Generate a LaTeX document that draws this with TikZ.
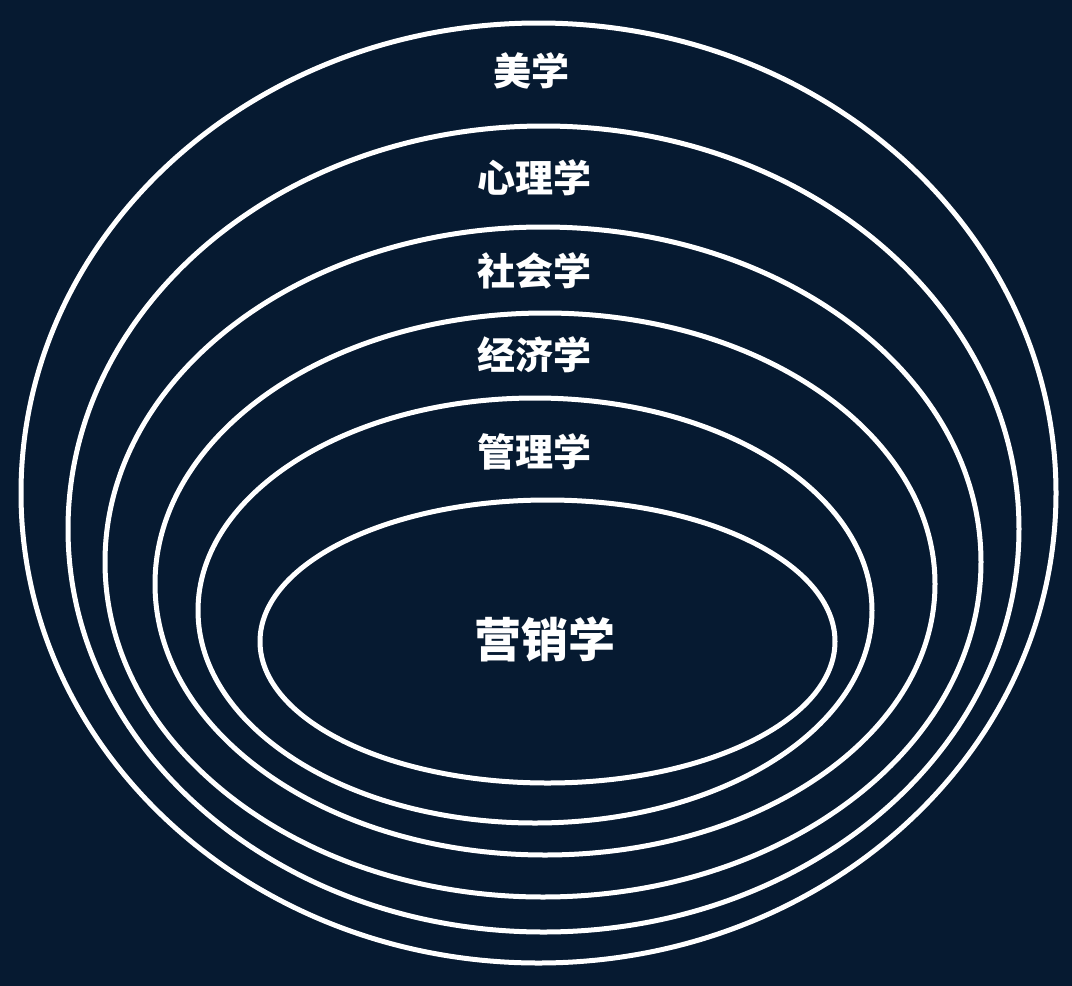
\documentclass[tikz,border=0pt]{standalone}
\usepackage{fontspec}
\newfontfamily\cjk{Noto Sans CJK SC}
\definecolor{navy}{HTML}{061A31}

\begin{document}
\begin{tikzpicture}[x=1pt,y=-1pt]
    \tikzstyle{ring}=[draw=white,line width=5pt]
    \tikzstyle{field}=[text=white,font=\cjk\bfseries\fontsize{38}{40}\selectfont,inner sep=0pt]
    \tikzstyle{core}=[field,font=\cjk\bfseries\fontsize{47}{50}\selectfont]
    \fill [navy] (0,0) rectangle (1072,986);
    \useasboundingbox (0,0) rectangle (1072,986);
    \path [ring] (538.5,493)   ellipse [x radius=517.5pt,y radius=470pt];
    \path [ring] (543.5,529)   ellipse [x radius=475.5pt,y radius=403pt];
    \path [ring] (543,562)     ellipse [x radius=438pt,y radius=335pt];
    \path [ring] (545,584)     ellipse [x radius=390pt,y radius=271pt];
    \path [ring] (535,610.5)   ellipse [x radius=337pt,y radius=212.5pt];
    \path [ring] (547.5,641.5) ellipse [x radius=287.5pt,y radius=141.5pt];
    \node (meixue)   at (531,71)  [field] {美学};
    \node (xinli)    at (534,178) [field] {心理学};
    \node (shehui)   at (534,271) [field] {社会学};
    \node (jingji)   at (534,355) [field] {经济学};
    \node (guanli)   at (534,452) [field] {管理学};
    \node (yingxiao) at (545,639) [core]  {营销学};
\end{tikzpicture}
\end{document}
